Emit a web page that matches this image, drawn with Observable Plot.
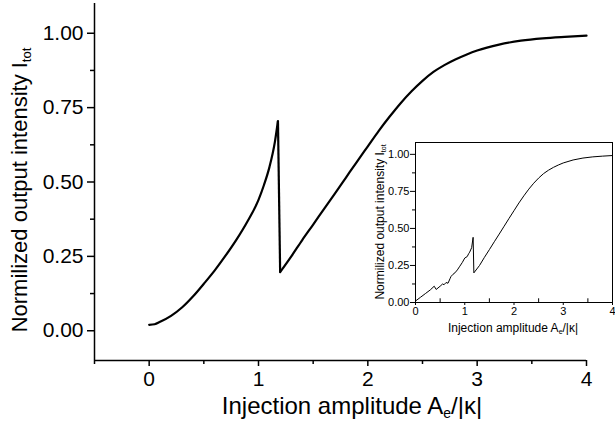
<!DOCTYPE html>
<html><head><meta charset="utf-8">
<script src="https://cdn.jsdelivr.net/npm/d3@7"></script>
<script src="https://cdn.jsdelivr.net/npm/@observablehq/plot@0.6"></script>
<style>
body{margin:0;background:#fff}
#chart{position:relative;width:615px;height:434px;overflow:hidden;background:#fff}
#inset{position:absolute;left:355px;top:138px}
</style>
</head><body><div id="chart"><div id="main"></div><div id="inset"></div></div>
<script>
// main curve (branch 1 before the jump, branch 2 after it)
const mainX = [0, 0.05, 0.1, 0.2, 0.3, 0.4, 0.5, 0.6, 0.7, 0.8, 0.9, 1.0, 1.05, 1.1, 1.15, 1.178,
  1.198, 1.3, 1.4, 1.5, 1.6, 1.7, 1.8, 1.9, 2.0, 2.1, 2.2, 2.3, 2.4, 2.5, 2.6, 2.7, 2.8, 2.9, 3.0, 3.2, 3.4, 3.6, 3.8, 4.0];
const mainY = [0.02, 0.022, 0.03, 0.05, 0.078, 0.115, 0.158, 0.203, 0.253, 0.307, 0.368, 0.44, 0.49, 0.55, 0.635, 0.705,
  0.197, 0.25, 0.305, 0.357, 0.41, 0.462, 0.515, 0.568, 0.62, 0.672, 0.72, 0.765, 0.805, 0.84, 0.87, 0.893, 0.912, 0.928, 0.942, 0.962, 0.975, 0.983, 0.988, 0.992];
const mainBranch = [1, 1, 1, 1, 1, 1, 1, 1, 1, 1, 1, 1, 1, 1, 1, 1,
  2, 2, 2, 2, 2, 2, 2, 2, 2, 2, 2, 2, 2, 2, 2, 2, 2, 2, 2, 2, 2, 2, 2, 2];
// inset curve
const insetX = [0, 0.1, 0.2, 0.3, 0.38, 0.42, 0.5, 0.55, 0.58, 0.62, 0.66, 0.7, 0.72, 0.76, 0.8, 0.85, 0.9, 0.95, 1.0, 1.05, 1.08, 1.1, 1.14, 1.17,
  1.185, 1.3, 1.4, 1.5, 1.6, 1.7, 1.8, 1.9, 2.0, 2.1, 2.2, 2.3, 2.4, 2.5, 2.6, 2.7, 2.8, 2.9, 3.0, 3.2, 3.4, 3.6, 3.8, 4.0];
const insetY = [0.01, 0.035, 0.06, 0.085, 0.11, 0.088, 0.11, 0.125, 0.12, 0.135, 0.13, 0.16, 0.175, 0.19, 0.2, 0.22, 0.245, 0.27, 0.3, 0.31, 0.33, 0.34, 0.37, 0.44,
  0.2, 0.25, 0.305, 0.357, 0.41, 0.462, 0.515, 0.568, 0.62, 0.672, 0.72, 0.765, 0.805, 0.84, 0.87, 0.893, 0.912, 0.928, 0.942, 0.962, 0.975, 0.983, 0.988, 0.992];

const mainXTicks = [0, 1, 2, 3, 4];
const mainXMinor = [-0.5, 0.5, 1.5, 2.5, 3.5];
const mainYTicks = [0, 0.25, 0.5, 0.75, 1.0];
const mainYMinor = [0.125, 0.375, 0.625, 0.875];
const insetXTicks = [0, 1, 2, 3, 4];
const insetXMinor = [0.5, 1.5, 2.5, 3.5];
const insetYTicks = [0, 0.25, 0.5, 0.75, 1.0];
const insetYMinor = [0.125, 0.375, 0.625, 0.875];

const yTitle = "Normilized output intensity I";
const ySub = "tot";
const xTitle = "Injection amplitude A";
const xSub = "e";
const xTail = "/|κ|";

const mainData = mainX.map((x, i) => ({x, y: mainY[i], b: mainBranch[i]}));
const pre = mainData.filter(d => d.b === 1);
const post = mainData.filter(d => d.b === 2);
const jump = [{x1: pre[pre.length - 1].x, y1: pre[pre.length - 1].y, x2: post[0].x, y2: post[0].y}];
const insetData = insetX.map((x, i) => ({x, y: insetY[i]}));
const font = "'Liberation Sans', Arial, sans-serif";
const f2 = d3.format(".2f");
const fi = d3.format("d");
const blank = () => "";

const main = Plot.plot({
  width: 615, height: 434,
  marginLeft: 94, marginRight: 29, marginTop: 3, marginBottom: 74,
  style: {fontFamily: font, background: "white", color: "black"},
  x: {domain: [-0.5, 4], label: null},
  y: {domain: [-0.1, 1.1], label: null},
  marks: [
    Plot.axisX({ticks: mainXMinor, tickSize: 4, tickFormat: blank, label: null, strokeWidth: 1.5}),
    Plot.axisX({ticks: mainXTicks, tickSize: 6, tickPadding: 5, tickFormat: fi, fontSize: 21, label: null, strokeWidth: 1.5}),
    Plot.axisY({ticks: mainYMinor, tickSize: 4, tickFormat: blank, label: null, strokeWidth: 1.5}),
    Plot.axisY({ticks: mainYTicks, tickSize: 7, tickPadding: 4, tickFormat: f2, fontSize: 21, label: null, strokeWidth: 1.5}),
    Plot.ruleX([-0.5], {stroke: "black", strokeWidth: 1.5}),
    Plot.ruleY([-0.1], {stroke: "black", strokeWidth: 1.5}),
    Plot.line(pre, {x: "x", y: "y", stroke: "black", strokeWidth: 2.2, curve: "monotone-x"}),
    Plot.link(jump, {x1: "x1", y1: "y1", x2: "x2", y2: "y2", stroke: "black", strokeWidth: 2.2}),
    Plot.line(post, {x: "x", y: "y", stroke: "black", strokeWidth: 2.2, curve: "monotone-x"})
  ]
});
document.getElementById("main").appendChild(main);

const inset = Plot.plot({
  width: 260, height: 200,
  marginLeft: 60, marginRight: 3, marginTop: 4, marginBottom: 36,
  style: {fontFamily: font, background: "transparent", color: "black"},
  x: {domain: [0, 4], label: null},
  y: {domain: [0, 1.08], label: null},
  marks: [
    Plot.axisX({ticks: insetXTicks, tickSize: 3, tickPadding: 2, tickFormat: fi, fontSize: 11, label: null}),
    Plot.ruleX(insetXMinor, {y1: 0, y2: 0.025, stroke: "black"}),
    Plot.axisY({ticks: insetYMinor, tickSize: 3, tickFormat: blank, label: null}),
    Plot.axisY({ticks: insetYTicks, tickSize: 5, tickPadding: 1, tickFormat: f2, fontSize: 11, label: null}),
    Plot.frame({stroke: "black", strokeWidth: 1}),
    Plot.line(insetData, {x: "x", y: "y", stroke: "black", strokeWidth: 1})
  ]
});
document.getElementById("inset").appendChild(inset);

function addTitle(svg, parts, x, y, rotate, size, subSize, subDy) {
  const t = d3.select(svg).append("text")
    .attr("transform", `translate(${x},${y})` + (rotate ? " rotate(-90)" : ""))
    .attr("text-anchor", "middle")
    .attr("font-family", font)
    .attr("font-size", size)
    .attr("fill", "black");
  t.append("tspan").text(parts[0]);
  t.append("tspan").attr("font-size", subSize).attr("dy", subDy).text(parts[1]);
  if (parts[2]) t.append("tspan").attr("dy", -subDy).text(parts[2]);
}
addTitle(main, [yTitle, ySub], 27, 190, true, 22, 13, 4);
addTitle(main, [xTitle, xSub, xTail], 352, 414, false, 24, 14, 4);
addTitle(inset, [yTitle, ySub], 29, 84, true, 12, 7, 2);
addTitle(inset, [xTitle, xSub, xTail], 158, 194, false, 12, 7, 2);
</script>
</body></html>
